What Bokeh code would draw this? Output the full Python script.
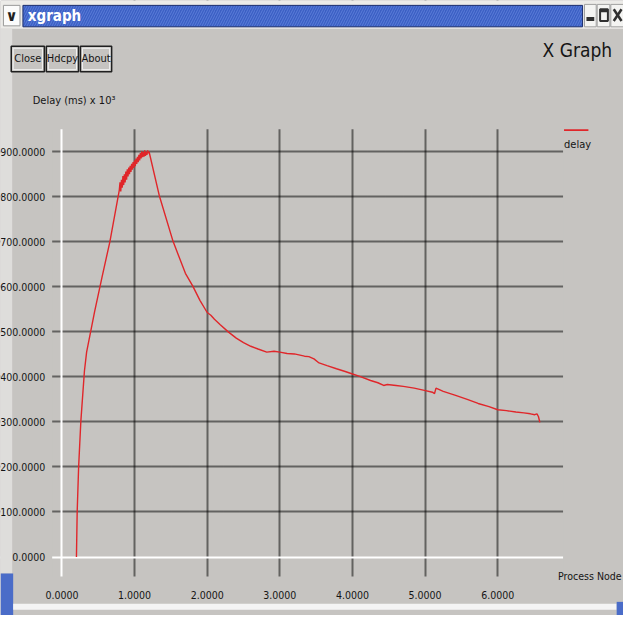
from bokeh.plotting import figure
from bokeh.models import Range1d, FixedTicker, PrintfTickFormatter, Grid
from bokeh.core.properties import value
from bokeh.embed import file_html
from bokeh.resources import INLINE

# ---- data ----
node_x = [0.20, 0.21, 0.23, 0.26, 0.31, 0.34, 0.45, 0.55, 0.66, 0.79,
          0.80, 0.81, 0.82, 0.83, 0.84, 0.85, 0.86, 0.87, 0.88, 0.89,
          0.90, 0.91, 0.92, 0.93, 0.94, 0.95, 0.96, 0.97, 0.98, 0.99,
          1.00, 1.01, 1.02, 1.03, 1.04, 1.05, 1.06, 1.07, 1.08, 1.09,
          1.10, 1.11, 1.12, 1.13, 1.14, 1.15, 1.16, 1.17, 1.18, 1.19,
          1.20, 1.34, 1.53, 1.70, 1.80, 1.90, 2.00, 2.05, 2.10, 2.18,
          2.29, 2.40, 2.50, 2.60, 2.70, 2.82, 2.92, 3.00, 3.10, 3.20,
          3.34, 3.40, 3.47, 3.54, 3.65, 3.78, 3.90, 3.99, 4.10, 4.25,
          4.35, 4.43, 4.48, 4.60, 4.70, 4.85, 4.99, 5.10, 5.13, 5.15,
          5.25, 5.42, 5.58, 5.73, 5.88, 6.00, 6.12, 6.25, 6.36, 6.45,
          6.51, 6.54, 6.56, 6.58]
delay_y = [0, 100, 200, 300, 413, 455, 545, 620, 700, 815,
           832, 812, 838, 820, 846, 826, 850, 832, 856, 838,
           861, 845, 865, 850, 869, 855, 873, 860, 877, 864,
           881, 868, 885, 873, 889, 877, 893, 881, 897, 885,
           901, 888, 899, 889, 903, 891, 900, 893, 903, 897,
           900, 803, 701, 630, 602, 570, 543, 537, 528, 516,
           500, 486, 476, 468, 462, 455, 457, 455, 452, 451,
           446, 445, 440, 431, 425, 418, 412, 407, 401, 392,
           387, 381, 383, 381, 379, 375, 370, 366, 363, 375,
           368, 359, 350, 341, 334, 327, 325, 322, 320, 318,
           316, 318, 312, 299]
series_name = "delay"
x_ticks = [0, 1, 2, 3, 4, 5, 6]
y_ticks = [0, 100, 200, 300, 400, 500, 600, 700, 800, 900]
x_label = "Process Node"
y_label = "Delay (ms) x 10\u00b3"
window_title = "xgraph"
graph_title = "X Graph"
buttons = ["Close", "Hdcpy", "About"]

BG = "#c6c4c1"
INK = "#151515"
RED = "#e0262a"
FONT = "DejaVu Sans Condensed"

# The frame covers the whole canvas. "px" ranges use the window's own pixel grid (639 x 631);
# the data ranges put the data area at window px x 53..577, y 132..591, as in xgraph.
p = figure(width=623, height=615, x_range=Range1d(-0.8456, 7.7315), y_range=Range1d(-129.9, 1235.9),
           output_backend="svg", toolbar_location=None, min_border=0)
p.extra_x_ranges = {"px": Range1d(0, 639)}
p.extra_y_ranges = {"px": Range1d(631, 0)}
p.background_fill_color = BG
p.border_fill_color = BG
p.outline_line_color = None

xa, ya = p.xaxis[0], p.yaxis[0]
xa.fixed_location = -43.3
ya.fixed_location = -0.134
for ax in (xa, ya):
    ax.axis_line_color = None
    ax.major_tick_line_color = None
    ax.minor_tick_line_color = None
    ax.major_label_text_color = INK
    ax.major_label_text_font = FONT
    ax.major_label_text_font_size = "10.5px"
    ax.formatter = PrintfTickFormatter(format="%.4f")
xa.ticker = FixedTicker(ticks=x_ticks)
ya.ticker = FixedTicker(ticks=y_ticks)
xa.major_label_standoff = 8
ya.major_label_standoff = 1

p.xgrid[0].ticker = FixedTicker(ticks=[t for t in x_ticks if t != 0])
p.ygrid[0].ticker = FixedTicker(ticks=[t for t in y_ticks if t != 0])
for g in (p.xgrid[0], p.ygrid[0]):
    g.grid_line_color = "#000000"
    g.grid_line_dash = "1 1"
    g.grid_line_width = 2
# white zero lines of xgraph
p.add_layout(Grid(dimension=0, ticker=FixedTicker(ticks=[0]), grid_line_color="white", grid_line_width=2))
p.add_layout(Grid(dimension=1, ticker=FixedTicker(ticks=[0]), grid_line_color="white", grid_line_width=2))

PX = dict(x_range_name="px", y_range_name="px")

# background outside the data area (hides grid lines there)
p.quad(left=[0, 0, 0, 577], right=[639, 639, 53, 639], top=[0, 591, 132, 132],
       bottom=[132, 631, 591, 591], fill_color=BG, line_color=None, **PX)

# data
p.line(node_x, delay_y, line_color=RED, line_width=1.4)

# window chrome: title bar
p.quad(left=[0], right=[639], top=[0], bottom=[29], fill_color="#ecebe8", line_color=None, **PX)
p.quad(left=[23], right=[597], top=[5], bottom=[27], fill_color="#3b5fc4", hatch_pattern="/",
       hatch_color="#7393e8", hatch_scale=5, hatch_weight=1, hatch_alpha=0.55,
       line_color="#1d2f6e", line_width=1, **PX)
p.quad(left=[3], right=[20], top=[5], bottom=[26], fill_color="#fbfbfb", line_color="#9a9a9a",
       line_width=1, **PX)
p.text(x=[11.5], y=[16], text=["\u2228"], text_font=value("DejaVu Sans"), text_font_style="bold",
       text_font_size="15px", text_color="#202020", text_baseline="middle", text_align="center", **PX)
p.text(x=[28], y=[16], text=[window_title], text_font=value(FONT), text_font_style="bold",
       text_font_size="15px", text_color="white", text_baseline="middle", **PX)
# minimise / maximise / close boxes
p.quad(left=[599, 612, 626], right=[611, 625, 639], top=[4, 4, 4], bottom=[27, 27, 27],
       fill_color="#f4f4f2", line_color="#a0a0a0", line_width=1, **PX)
p.quad(left=[601, 615], right=[609, 623], top=[17, 9], bottom=[21, 12], fill_color="#303030",
       line_color=None, **PX)
p.quad(left=[615], right=[623], top=[9], bottom=[21], fill_color=None, line_color="#303030",
       line_width=2, **PX)
p.segment(x0=[629, 637], y0=[9, 9], x1=[637, 629], y1=[21, 21], line_color="#303030",
          line_width=2.5, **PX)

# left border, bottom scroll strip
p.quad(left=[0, 0, 13, 632], right=[12, 13, 632, 639], top=[29, 588, 619, 617],
       bottom=[588, 631, 625, 631], fill_color=["#dedddb", "#4a6cc8", "#f4f4f4", "#4a6cc8"],
       line_color=None, **PX)

# push buttons
bl = [11, 47, 82]
br = [45, 80, 114]
p.quad(left=bl, right=br, top=[47] * 3, bottom=[73] * 3, fill_color=BG,
       line_color="#202020", line_width=1.5, **PX)
p.quad(left=[b + 2 for b in bl], right=[b - 2 for b in br], top=[49] * 3, bottom=[71] * 3,
       fill_color=None, line_color="#f4f4f4", line_width=1, **PX)
p.text(x=[(a + b) / 2 for a, b in zip(bl, br)], y=[60] * 3, text=buttons,
       text_font=value(FONT), text_font_size="11px", text_color=INK,
       text_align="center", text_baseline="middle", **PX)

p.text(x=[556], y=[51], text=[graph_title], text_font=value(FONT), text_font_size="19px",
       text_color=INK, text_baseline="middle", **PX)
p.text(x=[33], y=[103], text=[y_label], text_font=value(FONT), text_font_size="11px",
       text_color=INK, text_baseline="middle", **PX)

# legend entry in xgraph style: short line above the series name
p.quad(left=[578], right=[603], top=[132], bottom=[134], fill_color=RED, line_color=None, **PX)
p.text(x=[578], y=[148], text=[series_name], text_font=value(FONT), text_font_size="11px",
       text_color=INK, text_baseline="middle", **PX)
p.text(x=[637], y=[590], text=[x_label], text_font=value(FONT), text_font_size="10.5px",
       text_color=INK, text_baseline="middle", text_align="right", **PX)

open("out.html", "w").write(file_html(p, INLINE))
